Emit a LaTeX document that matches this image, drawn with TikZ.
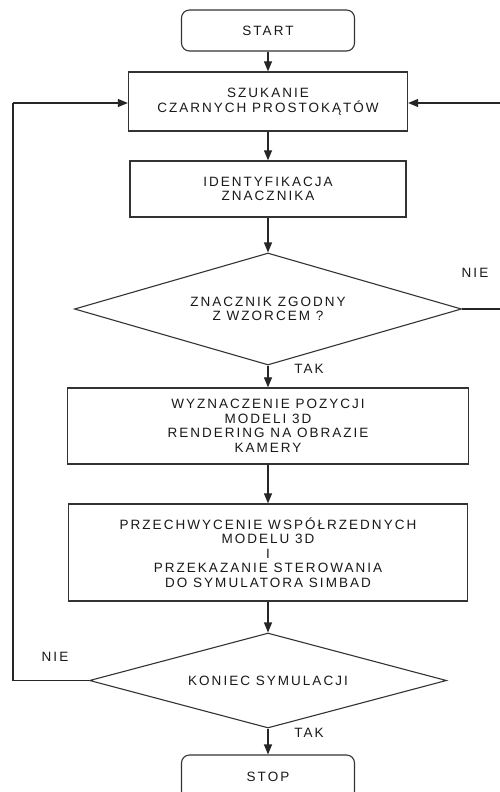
\documentclass[tikz,border=0pt]{standalone}
\usepackage{fontspec}
\setmainfont{Liberation Sans}[LetterSpace=15]
\usetikzlibrary{shapes.geometric,arrows.meta}
\begin{document}
\begin{tikzpicture}[x=1pt,y=-1pt,
  every node/.style={font=\fontsize{13.5}{14.5}\selectfont, text=black!90},
  proc/.style={draw=black!80, line width=1.3pt, rectangle, align=center, inner sep=0pt},
  term/.style={draw=black!80, line width=1.1pt, rectangle, rounded corners=8pt, inner sep=0pt, minimum width=173pt, minimum height=41pt},
  dec/.style={draw=black!80, line width=1.1pt, diamond, align=center, inner sep=0pt},
  conn/.style={draw=black!85, line width=1.2pt},
  arr/.style={conn, -{Triangle[length=10pt,width=8pt]}},
  lbl/.style={inner sep=0pt}
]
\useasboundingbox (0,0) rectangle (500,792);
\clip (0,0) rectangle (500,792);
\fill[white] (0,0) rectangle (500,792);

\node[term] (start) at (268,30.5) {START};
\node[proc, minimum width=279pt, minimum height=59pt] (szuk) at (268,101.5) {SZUKANIE\\CZARNYCH PROSTOKĄTÓW};
\node[proc, minimum width=276pt, minimum height=56pt] (ident) at (268,189) {IDENTYFIKACJA\\ZNACZNIKA};
\node[dec, shape aspect=3.45, minimum width=387pt, minimum height=112pt] (zgod) at (268,309) {ZNACZNIK ZGODNY\\Z WZORCEM ?};
\node[proc, minimum width=401pt, minimum height=76pt] (wyzn) at (268,426) {WYZNACZENIE POZYCJI\\MODELI 3D\\RENDERING NA OBRAZIE\\KAMERY};
\node[proc, minimum width=399pt, minimum height=97pt] (przech) at (268,552.5) {PRZECHWYCENIE WSPÓŁRZEDNYCH\\MODELU 3D\\I\\PRZEKAZANIE STEROWANIA\\DO SYMULATORA SIMBAD};
\node[dec, shape aspect=3.76, minimum width=357pt, minimum height=95pt] (koniec) at (268,680.5) {KONIEC SYMULACJI};
\node[term, minimum height=44pt] (stop) at (268,777) {STOP};

\coordinate (rtop) at (503,103);
\coordinate (rbot) at (503,309);
\coordinate (ltop) at (13,103);
\coordinate (lbot) at (13,680.5);

\draw[arr] (start) -- (szuk);
\draw[arr] (szuk) -- (ident);
\draw[arr] (ident) -- (zgod);
\draw[arr] (zgod) -- (wyzn);
\draw[arr] (wyzn) -- (przech);
\draw[arr] (przech) -- (koniec);
\draw[arr] (koniec) -- (stop);

\draw[conn] (zgod.east) -- (rbot) -- (rtop);
\draw[arr] (rtop) -- (szuk.east |- rtop);
\draw[conn] (koniec.west) -- (lbot) -- (ltop);
\draw[arr] (ltop) -- (szuk.west |- ltop);

\node[lbl] (nie1) at (475,273) {NIE};
\node[lbl] (tak1) at (309,369) {TAK};
\node[lbl] (nie2) at (55,657) {NIE};
\node[lbl] (tak2) at (309,733) {TAK};
\end{tikzpicture}
\end{document}
